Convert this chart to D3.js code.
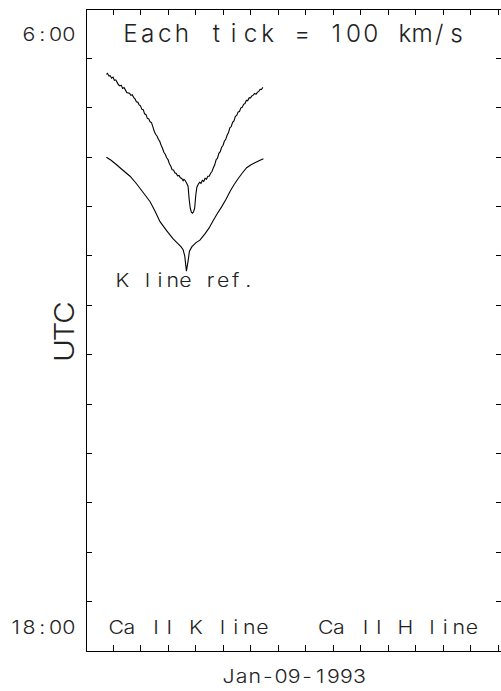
<!DOCTYPE html>
<html>
<head>
<meta charset="utf-8">
<script src="https://cdn.jsdelivr.net/npm/d3@7"></script>
<style>
  body { margin: 0; background: #fff; }
  svg { display: block; }
  .lbl { font-family: Inter, "DejaVu Sans", sans-serif; font-weight: 300; fill: #222; }
  .axis path, .axis line { stroke: #000; shape-rendering: crispEdges; }
</style>
</head>
<body>
<div id="chart"></div>
<script>
// Observed spectrum (noisy), velocity in km/s, offset plotted on UTC hours
const velObs = [76, 80, 85, 90, 95, 100, 105, 110, 115, 120, 125, 130, 135, 140, 145, 150, 155, 160,
  165, 170, 175, 180, 185, 190, 195, 200, 205, 210, 215, 220, 225, 230, 235, 240, 245, 250, 255, 260,
  265, 270, 275, 280, 285, 290, 295, 300, 305, 310, 315, 320, 325, 330, 335, 340, 345, 350, 355, 358,
  362, 365, 368, 373, 377, 381, 385, 389, 393, 397, 401, 405, 410, 415, 420, 425, 430, 435, 440, 445,
  450, 455, 460, 465, 470, 475, 480, 485, 490, 495, 500, 505, 510, 515, 520, 525, 530, 535, 540, 545,
  550, 555, 560, 565, 570, 575, 580, 585, 590, 595, 600, 605, 610, 615, 620, 625, 630, 635, 640, 645];
const utcObs = [6.834, 6.812, 6.865, 6.862, 6.911, 6.888, 6.956, 6.945, 6.996, 7.045, 7.067, 7.052,
  7.117, 7.100, 7.148, 7.200, 7.208, 7.215, 7.259, 7.245, 7.299, 7.330, 7.390, 7.395, 7.451, 7.470,
  7.542, 7.550, 7.633, 7.650, 7.724, 7.735, 7.795, 7.810, 7.896, 7.985, 8.048, 8.082, 8.149, 8.190,
  8.270, 8.330, 8.411, 8.452, 8.523, 8.560, 8.644, 8.690, 8.765, 8.772, 8.826, 8.840, 8.887, 8.880,
  8.927, 8.942, 8.988, 8.960, 8.978, 9.010, 9.038, 9.099, 9.362, 9.544, 9.625, 9.645, 9.615, 9.544,
  9.281, 9.119, 9.058, 9.018, 9.040, 8.978, 9.000, 8.937, 8.955, 8.897, 8.895, 8.836, 8.800, 8.725,
  8.665, 8.563, 8.530, 8.432, 8.400, 8.310, 8.275, 8.189, 8.150, 8.068, 8.012, 7.916, 7.890, 7.805,
  7.775, 7.684, 7.665, 7.593, 7.585, 7.512, 7.500, 7.441, 7.425, 7.360, 7.365, 7.310, 7.310, 7.269,
  7.255, 7.219, 7.235, 7.198, 7.180, 7.138, 7.140, 7.097];

// K line reference profile (smooth)
const velRef = [76, 93, 113, 136, 162, 184, 209, 235, 253, 271, 295, 318, 336, 347, 355, 361, 367,
  373, 378, 387, 402, 416, 435, 449, 465, 480, 495, 511, 526, 540, 556, 571, 586, 602, 616, 631, 647];
const utcRef = [8.513, 8.573, 8.664, 8.775, 8.897, 9.038, 9.220, 9.412, 9.604, 9.817, 9.999, 10.160,
  10.261, 10.322, 10.383, 10.514, 10.817, 10.615, 10.413, 10.322, 10.241, 10.191, 10.059, 9.948,
  9.786, 9.645, 9.517, 9.362, 9.200, 9.069, 8.937, 8.826, 8.725, 8.664, 8.624, 8.583, 8.543];

const xTickVals = [100, 200, 300, 400, 500, 600, 700, 800, 900, 1000, 1100, 1200, 1300, 1400, 1500];
const yTickVals = [6.5, 7.5, 8.5, 9.5, 10.5, 11.5, 12.5, 13.5, 14.5, 15.5, 16.5, 17.5];
const yLabelHours = [6, 18];
const yLabelText = ["6:00", "18:00"];

const W = 501, H = 691;
const svg = d3.select("#chart").append("svg").attr("width", W).attr("height", H);

const x = d3.scaleLinear().domain([0, 1515]).range([85.5, 502.1]);
const y = d3.scaleLinear().domain([5.5, 18.5]).range([8.5, 650.5]);

// frame with inward ticks on all four sides
svg.append("g").attr("class", "axis").attr("transform", "translate(85.5,0)")
  .call(d3.axisRight(y).tickValues(yTickVals).tickSize(6).tickSizeOuter(0).tickFormat(""));
svg.append("g").attr("class", "axis").attr("transform", "translate(502.1,0)")
  .call(d3.axisLeft(y).tickValues(yTickVals).tickSize(6).tickSizeOuter(0).tickFormat(""));
svg.append("g").attr("class", "axis").attr("transform", "translate(0,8.5)")
  .call(d3.axisBottom(x).tickValues(xTickVals).tickSize(6).tickSizeOuter(0).tickFormat(""));
svg.append("g").attr("class", "axis").attr("transform", "translate(0,650.5)")
  .call(d3.axisTop(x).tickValues(xTickVals).tickSize(6).tickSizeOuter(0).tickFormat(""));

// spectra
const line = d3.line().x(d => x(d[0])).y(d => y(d[1]));
svg.append("path").datum(d3.zip(velObs, utcObs))
  .attr("d", line).attr("fill", "none").attr("stroke", "#000").attr("stroke-width", 1.1);
svg.append("path").datum(d3.zip(velRef, utcRef))
  .attr("d", line).attr("fill", "none").attr("stroke", "#000").attr("stroke-width", 1.1);

// fixed-pitch labels (plotter style): every character centred in its own cell, a bit widened
function mono(parent, txt, x0, base, size, cell, sx) {
  sx = sx || 1.15;
  const g = parent.append("g").attr("class", "lbl").style("font-size", size + "px");
  g.selectAll("text").data(txt.split("")).join("text")
    .attr("transform", (c, i) => `translate(${x0 + (i + 0.5) * cell},${base}) scale(${sx},1)`)
    .attr("text-anchor", "middle")
    .text(c => c);
  return g;
}

const small = 18.5, cell = 13.3;
yLabelHours.forEach((h, i) => {
  const t = yLabelText[i];
  mono(svg, t, 75.5 - t.length * cell, y(h) + 7.8, small, cell);
});

mono(svg, "Each tick = 100 km/s", 122, 41.7, 24.3, 17.15, 1.0);
mono(svg, "K line ref.", 116, 287, small, 12.6);
mono(svg, "Ca II K line", 109.5, 634, small, cell);
mono(svg, "Ca II H line", 319, 634, small, cell);
mono(svg, "Jan-09-1993", 222, 683, small, 13.1);

const utc = svg.append("g").attr("transform", "translate(74,331.5) rotate(-90)");
mono(utc, "UTC", -28.5, 0, 27.4, 19);
</script>
</body>
</html>
